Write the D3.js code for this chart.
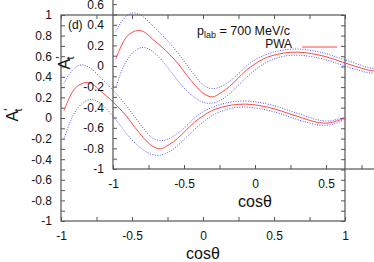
<!DOCTYPE html>
<html>
<head>
<meta charset="utf-8">
<script src="https://cdn.jsdelivr.net/npm/d3@7"></script>
<style>
  body { margin: 0; background: #fff; }
  text { font-family: "Liberation Sans", Arial, sans-serif; fill: #111; }
</style>
</head>
<body>
<div id="chart"></div>
<script>
// cos(theta) grid and PWA A't with its error band
var cosT  = [-0.98, -0.94, -0.90, -0.86, -0.82, -0.78, -0.72, -0.66, -0.60, -0.54, -0.48, -0.42, -0.36, -0.30,
             -0.24, -0.18, -0.12, -0.06, 0, 0.06, 0.12, 0.2, 0.3, 0.4, 0.5, 0.6, 0.7, 0.8, 0.88, 0.94, 1.0];
var pwa   = [0.07, 0.20, 0.29, 0.33, 0.345, 0.33, 0.26, 0.19, 0.11, 0.02, -0.09, -0.19, -0.27, -0.30,
             -0.26, -0.20, -0.12, -0.04, 0.02, 0.07, 0.10, 0.125, 0.135, 0.12, 0.09, 0.045, 0.00, -0.04, -0.05, -0.03, 0.00];
var pwaUp = [0.335, 0.43, 0.49, 0.515, 0.505, 0.47, 0.39, 0.31, 0.22, 0.12, 0.01, -0.10, -0.19, -0.22,
             -0.20, -0.15, -0.08, 0.00, 0.06, 0.10, 0.13, 0.155, 0.165, 0.15, 0.12, 0.075, 0.03, -0.015, -0.03, -0.015, 0.01];
var pwaLo = [-0.21, -0.05, 0.06, 0.13, 0.17, 0.18, 0.14, 0.06, -0.04, -0.15, -0.24, -0.31, -0.355, -0.36,
             -0.33, -0.27, -0.19, -0.11, -0.04, 0.02, 0.06, 0.095, 0.105, 0.09, 0.06, 0.015, -0.03, -0.065, -0.07, -0.05, -0.01];

var xTickLabels = [-1, -0.5, 0, 0.5, 1];
var yTickLabels = [-1, -0.8, -0.6, -0.4, -0.2, 0, 0.2, 0.4, 0.6, 0.8, 1];
var panelLabel = "(d)";
var keyLabel = "PWA";

var width = 374, height = 262;

var svg = d3.select("#chart").append("svg")
    .attr("width", width)
    .attr("height", height);

var x = d3.scaleLinear().domain([-1, 1]).range([61, 345]);
var y = d3.scaleLinear().domain([-1, 1]).range([221, 15]);

var fmt = function(d) { return String(+d.toFixed(1)); };

function drawPanel(dx, dy) {
  var g = svg.append("g").attr("transform", "translate(" + dx + "," + dy + ")");

  var xMinor = d3.range(-1, 1.001, 0.25).map(function(d) { return +d.toFixed(2); });
  var yMinor = d3.range(-1, 1.001, 0.1).map(function(d) { return +d.toFixed(1); });

  // frame
  g.append("rect")
      .attr("x", x(-1)).attr("y", y(1))
      .attr("width", x(1) - x(-1)).attr("height", y(-1) - y(1))
      .style("fill", "none")
      .style("stroke", "#555")
      .style("stroke-width", 1.2);

  // ticks, inward on all sides
  var axes = [
    [d3.axisBottom(x).tickValues(xMinor), "translate(0," + y(-1) + ")", true],
    [d3.axisTop(x).tickValues(xMinor), "translate(0," + y(1) + ")", false],
    [d3.axisLeft(y).tickValues(yMinor), "translate(" + x(-1) + ",0)", true],
    [d3.axisRight(y).tickValues(yMinor), "translate(" + x(1) + ",0)", false]
  ];
  axes.forEach(function(a, i) {
    var isX = i < 2;
    var labels = isX ? xTickLabels : yTickLabels;
    var ax = a[0]
        .tickSizeInner(-4)
        .tickSizeOuter(0)
        .tickPadding(isX ? 10 : 9)
        .tickFormat(function(d) {
          return a[2] && labels.indexOf(d) >= 0 ? fmt(d) : "";
        });
    var ga = g.append("g").attr("transform", a[1]).call(ax);
    ga.select(".domain").remove();
    ga.selectAll(".tick line").style("stroke", "#555").style("stroke-width", 1);
    ga.selectAll(".tick text")
        .style("font-size", "12px")
        .style("font-family", "'Liberation Sans', Arial, sans-serif")
        .attr("fill", "#111");
  });

  // axis titles
  g.append("text")
      .attr("x", x(0)).attr("y", 259)
      .attr("text-anchor", "middle")
      .style("font-size", "16px")
      .text("cos\u03b8");

  var yl = g.append("text")
      .attr("transform", "translate(18," + (y(0) - 3) + ") rotate(-90)")
      .attr("text-anchor", "middle")
      .style("font-size", "16px");
  yl.append("tspan").text("A");
  yl.append("tspan").attr("dy", -5).style("font-size", "12px").text("\u2032");
  yl.append("tspan").attr("dx", -3).attr("dy", 9).style("font-size", "11px").text("t");

  // curves
  var line = d3.line()
      .x(function(d) { return x(d[0]); })
      .y(function(d) { return y(d[1]); })
      .curve(d3.curveCatmullRom);

  [pwaUp, pwaLo].forEach(function(s) {
    g.append("path")
        .datum(cosT.map(function(c, i) { return [c, s[i]]; }))
        .attr("d", line)
        .style("fill", "none")
        .style("stroke", "#4f4fff")
        .style("stroke-width", 1)
        .style("stroke-dasharray", "1,1.5");
  });

  g.append("path")
      .datum(cosT.map(function(c, i) { return [c, pwa[i]]; }))
      .attr("d", line)
      .style("fill", "none")
      .style("stroke", "#ff4747")
      .style("stroke-width", 1);

  // labels and key
  g.append("text")
      .attr("x", x(-0.951)).attr("y", y(0.864))
      .style("font-size", "12px")
      .text(panelLabel);

  var pl = g.append("text")
      .attr("x", x(-0.042)).attr("y", y(0.806))
      .style("font-size", "12.5px");
  pl.append("tspan").text("p");
  pl.append("tspan").attr("dy", 3).style("font-size", "9px").text("lab");
  pl.append("tspan").attr("dy", -3).text(" = 700 MeV/c");

  g.append("text")
      .attr("x", x(0.627)).attr("y", y(0.68))
      .attr("text-anchor", "end")
      .style("font-size", "12px")
      .text(keyLabel);

  g.append("line")
      .attr("x1", x(0.697)).attr("x2", x(0.944))
      .attr("y1", y(0.689)).attr("y2", y(0.689))
      .style("stroke", "#ff4747")
      .style("stroke-width", 1);
}

// the picture shows the same panel twice, the second copy shifted up and right
drawPanel(0, 0);
drawPanel(52, -52);
</script>
</body>
</html>
